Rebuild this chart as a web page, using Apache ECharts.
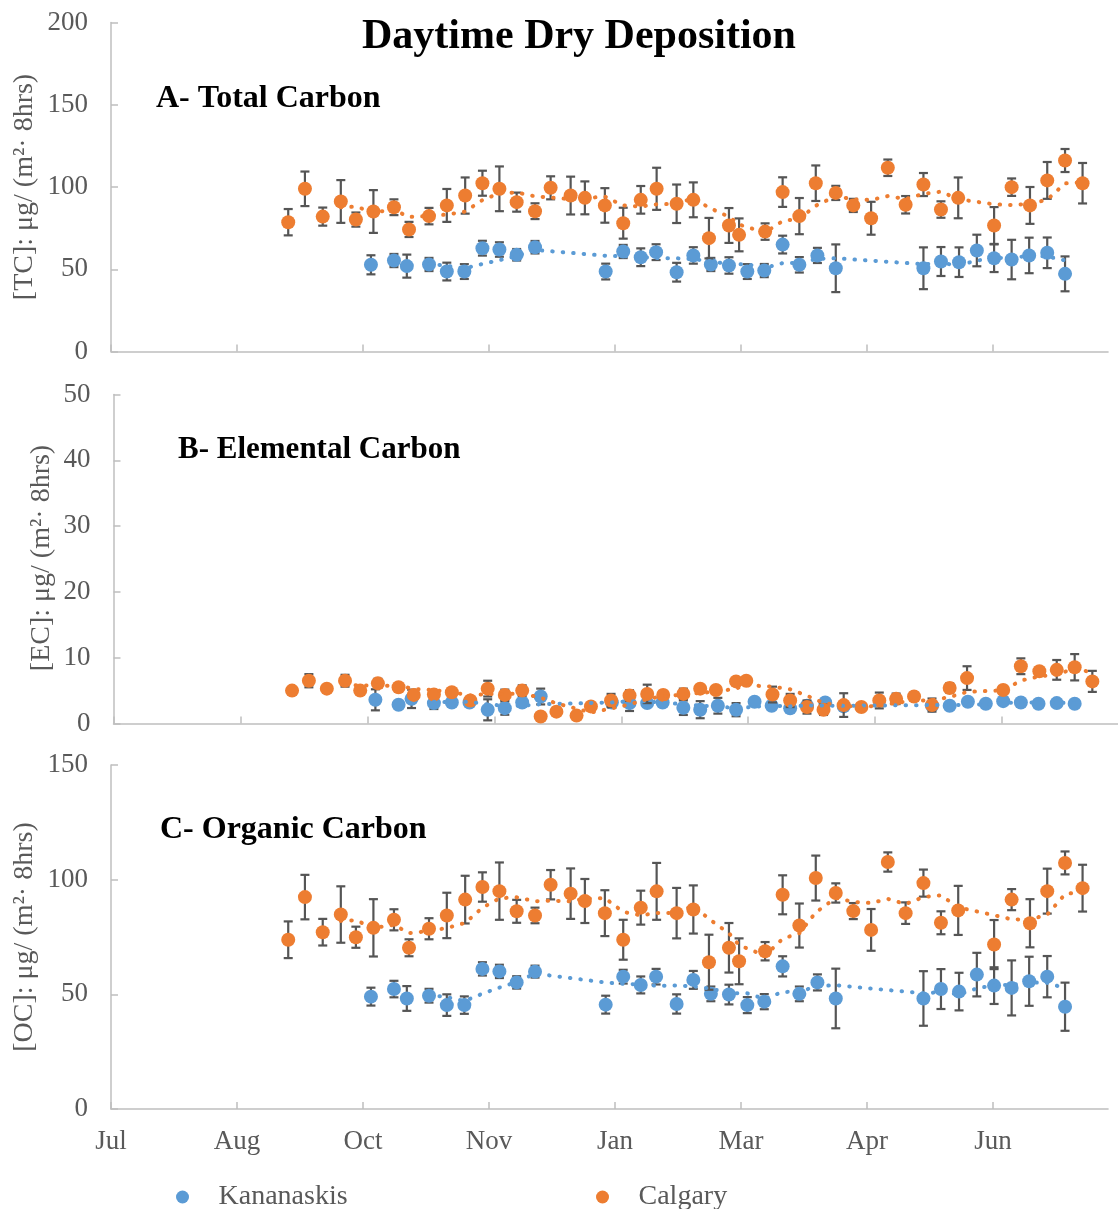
<!DOCTYPE html>
<html><head><meta charset="utf-8">
<script src="https://cdn.jsdelivr.net/npm/echarts@6/dist/echarts.min.js"></script>
<style>html,body{margin:0;padding:0;background:#fff}#c{width:1118px;height:1209px}</style>
</head><body><div id="c"></div><script>
// ---------- data ----------
const monthLabels = ['Jul','Aug','Oct','Nov','Jan','Mar','Apr','Jun'];
const tickDays = [0,46,92,138,184,230,276,322];

const calgaryDays = [64.7,70.8,77.3,83.9,89.4,95.8,103.3,108.8,116.1,122.6,129.3,135.6,141.8,148.1,154.8,160.5,167.8,173.0,180.3,187.0,193.4,199.2,206.5,212.6,218.3,225.6,229.3,238.8,245.2,251.3,257.3,264.6,271.0,277.5,283.6,290.1,296.6,303.0,309.3,322.4,328.8,335.5,341.8,348.3,354.7];
const kananaskisDays = [94.9,103.3,108.0,116.1,122.6,129.0,135.6,141.8,148.1,154.8,180.6,187.0,193.4,199.0,206.5,212.6,219.0,225.6,232.3,238.5,245.2,251.3,257.9,264.6,296.6,303.0,309.6,316.1,322.4,328.8,335.2,341.8,348.3];

const tcCalgary = [78.6,98.9,82,91.2,80.2,85.1,87.7,74.2,82.3,88.8,94.8,102.3,98.9,90.8,85.3,99.5,94.8,93.4,88.8,78,92.2,98.9,89.8,92.2,68.9,76.6,70.9,72.9,96.9,82.3,102.3,96.4,88.8,81,111.7,89.2,101.5,86.3,93.4,76.6,99.9,88.8,104,116.1,102.3];
const tcCalgaryErr = [8,10.5,5.5,13,4.3,13,4.8,4.6,5,10,11,7.6,13.6,5.8,4.8,7,11.5,10,10.5,9.4,8.4,12.8,11.7,10.6,12.3,10.6,10,5,9,11,10.8,4.3,4,10,5,5.3,7,5,12.4,11.2,5.3,11.2,11.2,7,12.3];
const tcKananaskis = [52.7,55.3,51.9,52.9,48.6,48.6,62.8,62,58.8,63.4,48.6,60.8,57.3,60.4,48.2,58.4,52.9,52.3,48.6,49.2,65,52.7,58.4,50.6,50.6,54.7,54.3,61.4,56.7,55.9,58.4,60,47.2];
const tcKananaskisErr = [5.8,4,7,4,5.4,4.5,4.5,4.4,3.5,3.8,4.8,4,5.4,4.8,5.7,5,4,5,4.5,4,5.4,4.7,4.6,14.5,12.7,8.8,9,9.6,8.4,12,10.8,9.3,10.6];

const ecCalgary = [5.0,6.5,5.3,6.5,5.0,6.1,5.5,4.35,4.4,4.76,3.5,5.3,4.35,5.0,1.06,1.8,1.2,2.6,3.5,4.25,4.5,4.35,4.5,5.3,5.1,6.4,6.5,4.4,3.5,2.5,2.1,2.8,2.5,3.5,3.75,4.1,2.8,5.4,6.9,5.1,8.7,7.95,8.15,8.55,6.4];
const ecCalgaryErr = [0.3,1.0,0.3,0.9,0.5,0.7,0.5,0.6,0.5,0.5,0.5,1.2,0.8,0.8,0.4,0.6,0.4,0.4,1.0,0.8,1.4,0.6,0.8,0.5,0.4,0.5,0.5,1.2,1.0,1.0,0.8,1.8,0.6,1.2,0.8,0.6,1.0,0.7,1.8,0.6,1.2,0.6,1.5,2.0,1.6];
const ecKananaskis = [3.6,2.84,3.75,3.1,3.2,3.2,2.08,2.33,3.2,4.1,3.2,3.1,3.1,3.2,2.4,2.1,2.7,2.1,3.3,2.7,2.3,2.7,3.2,2.6,2.7,2.7,3.3,3.0,3.4,3.2,3.0,3.1,3.0];
const ecKananaskisErr = [1.6,0.4,1.4,0.9,0.5,0.5,1.6,1.0,0.5,1.2,0.8,1.2,0.5,0.5,1.1,1.3,1.2,1.0,0.5,0.5,0.5,0.5,0.5,0.5,0.5,0.3,0.3,0.3,0.3,0.3,0.3,0.3,0.3];

const ocCalgary = [73.8,92.4,77.1,84.8,74.9,79,82.5,70.3,78.6,84.4,91.3,96.8,95,86.2,84.4,97.8,93.9,90.7,85.4,73.8,87.8,94.9,85.4,87,64,70.3,64.4,68.8,93.4,80,100.7,94.2,86.3,78.1,107.7,85.4,98.5,81.2,86.6,71.7,91.3,81,95,107.3,96.3];
const ocCalgaryErr = [8,9.7,5.8,12.3,4.6,12.5,4.6,3.7,4.6,9.9,10.4,6.4,12.5,5,3.4,6.4,11,9.6,10,8.7,7.4,12.4,11,10.5,12,10.8,10,4,8.5,9.6,9.8,4.2,3.5,9.1,4.2,4.7,5.9,5,10.7,10.7,4.6,10.5,9.8,5,10.2];
const ocKananaskis = [49,52.3,48.2,49.4,45.3,45.3,61.1,60,55.2,59.9,45.5,57.7,54.1,57.7,45.8,56.3,50.2,49.9,45.3,46.8,62.2,50.2,55.2,48.2,48.2,52.3,51.2,58.6,53.8,52.8,55.7,57.7,44.6];
const ocKananaskisErr = [3.9,3.6,5.4,3,4.7,3.8,2.9,2.9,2.7,2.6,3.9,3,3.7,3.4,4.2,3.9,3.2,4.3,3.5,3.3,4.4,3.2,3.5,13,11.9,8.7,8.2,9.5,8,12,10.7,9,10.5];

// ---------- helpers ----------
const BLUE = '#5B9BD5', ORANGE = '#ED7D31', GREY = '#595959', AXIS = '#BFBFBF';
const SERIF = '"Liberation Serif","Times New Roman",serif';

function movingAvg(days, vals, n) {
  const out = [];
  for (let i = n - 1; i < vals.length; i++) {
    let s = 0; for (let j = i - n + 1; j <= i; j++) s += vals[j];
    out.push([days[i], s / n]);
  }
  return out;
}
function pairs(days, vals) { return days.map((d, i) => [d, vals[i]]); }

function errSeries(idx, days, vals, errs, z) {
  return {
    type: 'custom', name: 'err' + idx + '_' + z, xAxisIndex: idx, yAxisIndex: idx, z: z, silent: true,
    data: days.map((d, i) => [d, vals[i] - errs[i], vals[i] + errs[i]]),
    encode: { x: 0, y: [1, 2] },
    renderItem: function (params, api) {
      const x = api.value(0);
      const p1 = api.coord([x, api.value(1)]), p2 = api.coord([x, api.value(2)]);
      const hw = 4.5, st = { stroke: '#555555', lineWidth: 2.2, fill: null };
      return { type: 'group', children: [
        { type: 'line', shape: { x1: p1[0], y1: p1[1], x2: p2[0], y2: p2[1] }, style: st },
        { type: 'line', shape: { x1: p1[0] - hw, y1: p1[1], x2: p1[0] + hw, y2: p1[1] }, style: st },
        { type: 'line', shape: { x1: p2[0] - hw, y1: p2[1], x2: p2[0] + hw, y2: p2[1] }, style: st }
      ]};
    }
  };
}
function scatter(idx, name, color, days, vals, z) {
  return { type: 'scatter', name: name, xAxisIndex: idx, yAxisIndex: idx, z: z, symbol: 'circle', symbolSize: 14,
    itemStyle: { color: color, opacity: 1 }, data: pairs(days, vals), silent: true };
}
function trend(idx, color, days, vals) {
  return { type: 'line', name: 'trend' + idx + color, xAxisIndex: idx, yAxisIndex: idx, z: 6, symbol: 'none', showSymbol: false,
    silent: true, lineStyle: { color: color, width: 4, type: [0.5, 10], cap: 'round' }, data: movingAvg(days, vals, 4) };
}

function xAxis(gi, showLabels) {
  return {
    type: 'value', gridIndex: gi, min: 0, max: 364, interval: 46,
    axisLine: { show: true, lineStyle: { color: AXIS, width: 1.5 } },
    axisTick: { show: true, inside: true, length: 7, customValues: tickDays, lineStyle: { color: AXIS, width: 1.5 } },
    splitLine: { show: false },
    axisLabel: { show: showLabels, customValues: tickDays, margin: 19, color: GREY, fontFamily: SERIF, fontSize: 27,
      formatter: v => monthLabels[Math.round(v / 46)] || '' }
  };
}
function yAxis(gi, max, interval) {
  return {
    type: 'value', gridIndex: gi, min: 0, max: max, interval: interval,
    axisLine: { show: true, lineStyle: { color: AXIS, width: 1.5 } },
    axisTick: { show: true, inside: true, length: 7, lineStyle: { color: AXIS, width: 1.5 } },
    splitLine: { show: false },
    axisLabel: { margin: 23, color: GREY, fontFamily: SERIF, fontSize: 27 }
  };
}
function txt(x, y, text, font, color, align, rot) {
  return { type: 'text', x: x, y: y, rotation: rot || 0, silent: true,
    style: { text: text, font: font, fill: color, textAlign: align || 'left', textVerticalAlign: 'middle' } };
}

const chart = echarts.init(document.getElementById('c'), null, { renderer: 'canvas' });
chart.setOption({
  backgroundColor: '#fff',
  animation: false,
  grid: [
    { left: 111, top: 22.5, width: 364 * 126 / 46, height: 329 },
    { left: 113.5, top: 394.5, width: 364 * 128.3 / 46, height: 329 },
    { left: 111, top: 765, width: 364 * 126 / 46, height: 344 }
  ],
  xAxis: [xAxis(0, false), xAxis(1, false), xAxis(2, true)],
  yAxis: [yAxis(0, 200, 50), yAxis(1, 50, 10), yAxis(2, 150, 50)],
  legend: [
    { data: ['Kananaskis'], left: 171, top: 1178, icon: 'circle', itemWidth: 62, itemHeight: 13,
      textStyle: { color: GREY, fontFamily: SERIF, fontSize: 28 } },
    { data: ['Calgary'], left: 591, top: 1178, icon: 'circle', itemWidth: 62, itemHeight: 13,
      textStyle: { color: GREY, fontFamily: SERIF, fontSize: 28 } }
  ],
  graphic: [
    txt(579, 37, 'Daytime Dry Deposition', 'bold 42px ' + SERIF, '#000', 'center'),
    txt(156, 99, 'A- Total Carbon', 'bold 32px ' + SERIF, '#000'),
    txt(178, 450, 'B- Elemental Carbon', 'bold 31px ' + SERIF, '#000'),
    txt(160, 830, 'C- Organic Carbon', 'bold 32px ' + SERIF, '#000'),
    txt(25, 187, '[TC]: μg/ (m²· 8hrs)', '28px ' + SERIF, GREY, 'center', Math.PI / 2),
    txt(42, 558, '[EC]: μg/ (m²· 8hrs)', '28px ' + SERIF, GREY, 'center', Math.PI / 2),
    txt(25, 937, '[OC]: μg/ (m²· 8hrs)', '28px ' + SERIF, GREY, 'center', Math.PI / 2)
  ],
  series: [
    errSeries(0, kananaskisDays, tcKananaskis, tcKananaskisErr, 1),
    scatter(0, 'Kananaskis', BLUE, kananaskisDays, tcKananaskis, 3),
    errSeries(0, calgaryDays, tcCalgary, tcCalgaryErr, 4),
    scatter(0, 'Calgary', ORANGE, calgaryDays, tcCalgary, 5),
    trend(0, BLUE, kananaskisDays, tcKananaskis),
    trend(0, ORANGE, calgaryDays, tcCalgary),

    errSeries(1, kananaskisDays, ecKananaskis, ecKananaskisErr, 1),
    scatter(1, 'Kananaskis', BLUE, kananaskisDays, ecKananaskis, 3),
    errSeries(1, calgaryDays, ecCalgary, ecCalgaryErr, 4),
    scatter(1, 'Calgary', ORANGE, calgaryDays, ecCalgary, 5),
    trend(1, BLUE, kananaskisDays, ecKananaskis),
    trend(1, ORANGE, calgaryDays, ecCalgary),

    errSeries(2, kananaskisDays, ocKananaskis, ocKananaskisErr, 1),
    scatter(2, 'Kananaskis', BLUE, kananaskisDays, ocKananaskis, 3),
    errSeries(2, calgaryDays, ocCalgary, ocCalgaryErr, 4),
    scatter(2, 'Calgary', ORANGE, calgaryDays, ocCalgary, 5),
    trend(2, BLUE, kananaskisDays, ocKananaskis),
    trend(2, ORANGE, calgaryDays, ocCalgary)
  ]
});
</script></body></html>
